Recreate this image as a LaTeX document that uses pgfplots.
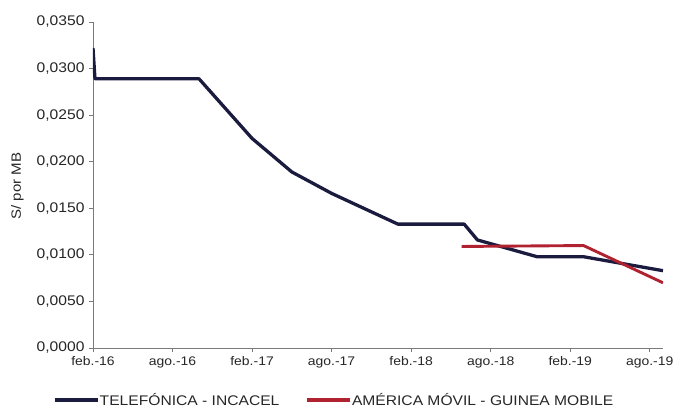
\documentclass[border=0pt]{standalone}
\usepackage{fontspec}
\setmainfont{Liberation Sans}[FakeStretch=1.12]
\usepackage{pgfplots}
\pgfplotsset{compat=1.18}
\definecolor{navy}{HTML}{1B1B3F}
\definecolor{rred}{HTML}{B0222F}
\definecolor{axgray}{HTML}{7A7A7A}

\begin{document}
\begin{tikzpicture}
\useasboundingbox (-93bp,-59bp) rectangle (582bp,348bp);
\begin{axis}[
    scale only axis,
    width=570bp, height=326bp,
    at={(0,0)}, anchor=south west,
    xmin=0, xmax=43,
    ymin=0, ymax=0.035,
    axis lines*=left,
    axis line style={axgray, line width=0.8pt},
    tick style={axgray, line width=0.8pt},
    tick align=outside,
    major tick length=4bp,
    xtick={0,6,12,18,24,30,36,42},
    xticklabels={feb.-16, ago.-16, feb.-17, ago.-17, feb.-18, ago.-18, feb.-19, ago.-19},
    ytick={0,0.005,0.01,0.015,0.02,0.025,0.03,0.035},
    scaled y ticks=false,
    yticklabel style={/pgf/number format/fixed, /pgf/number format/fixed zerofill,
        /pgf/number format/precision=4, /pgf/number format/use comma,
        /pgf/number format/assume math mode=true, xshift=-1bp,
        font=\fontsize{14}{16}\selectfont},
    xticklabel style={font=\fontsize{12.5}{15}\selectfont, yshift=-1bp},
    ticklabel style={text=black!85},
    ylabel={S/ por MB},
    every axis y label/.style={at={(rel axis cs:0,0.497)}, xshift=-75.5bp,
        rotate=90, anchor=center, font=\fontsize{13.5}{15}\selectfont, text=black!85},
    legend columns=2,
    legend cell align=left,
    legend style={draw=none, fill=none, at={(-0.0755,-0.16)}, anchor=west,
        font=\fontsize{14}{16}\selectfont, text=black!85,
        nodes={inner xsep=0pt},
        /tikz/every even column/.append style={column sep=26bp}},
    legend image code/.code={\draw[#1, line width=3.6pt] (0bp,0bp) -- (43bp,0bp);},
]

% TELEFONICA - INCACEL
\addplot[color=navy, line width=3.3pt, line join=round] coordinates {
    (0, 0.0322)
    (0.15, 0.0289)
    (8, 0.0289)
    (12, 0.0225)
    (15, 0.0189)
    (18, 0.0166)
    (23, 0.0133)
    (28, 0.0133)
    (29, 0.0116)
    (33.5, 0.0098)
    (37, 0.0098)
    (43, 0.0083)
};
\addlegendentry{TELEFÓNICA - INCACEL}

% AMERICA MOVIL - GUINEA MOBILE
\addplot[color=rred, line width=2.9pt, line join=round] coordinates {
    (27.8, 0.0109)
    (37, 0.0110)
    (43, 0.0070)
};
\addlegendentry{AMÉRICA MÓVIL - GUINEA MOBILE}

\end{axis}
\end{tikzpicture}
\end{document}
